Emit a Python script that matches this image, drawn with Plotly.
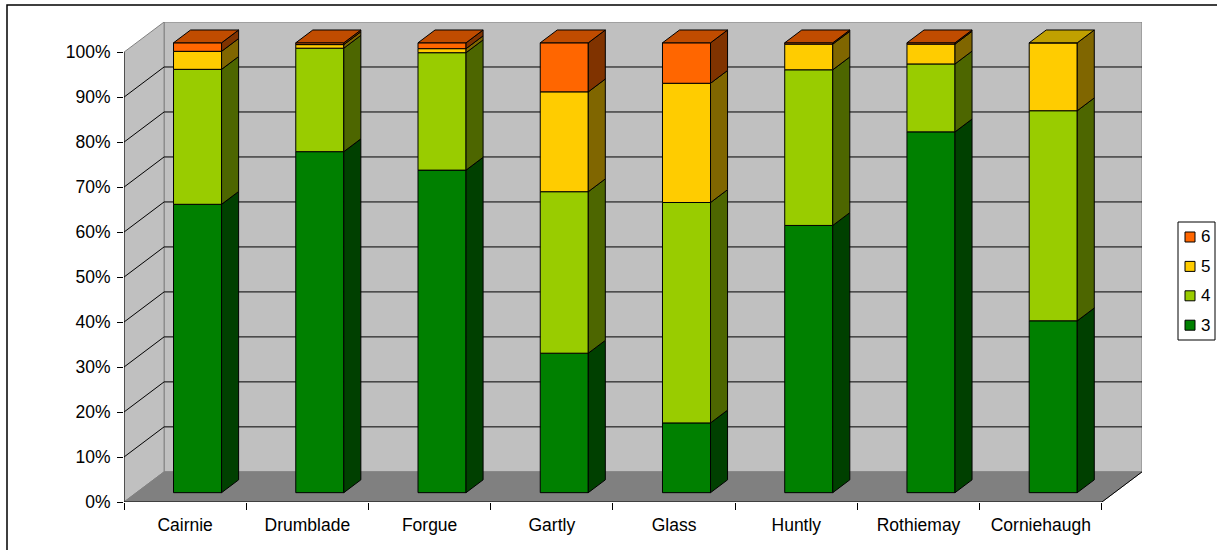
import plotly.graph_objects as go

# Share of each grade per site (percent of total)
sites = ["Cairnie", "Drumblade", "Forgue", "Gartly", "Glass", "Huntly", "Rothiemay", "Corniehaugh"]
grades = ["3", "4", "5", "6"]
grade3 = [64.1, 75.8, 71.7, 31.0, 15.5, 59.4, 80.2, 38.2]
grade4 = [30.0, 23.0, 26.1, 35.9, 49.0, 34.6, 15.1, 46.7]
grade5 = [4.0, 0.8, 0.9, 22.2, 26.5, 5.7, 4.4, 15.1]
grade6 = [1.9, 0.4, 1.3, 10.9, 9.0, 0.3, 0.3, 0.0]
y_ticks = [0, 10, 20, 30, 40, 50, 60, 70, 80, 90, 100]

series = [grade3, grade4, grade5, grade6]
front_colors = ["#008000", "#99CC00", "#FFCC00", "#FF6600"]
side_colors = ["#004000", "#4D6600", "#806600", "#803300"]
top_colors = ["#006000", "#739900", "#C0A000", "#C04C00"]

W, H = 1217, 550
M_L, M_R, M_T, M_B = 124, 75, 22, 48

# Oblique projection: depth 0 = front plane, depth 1 = back wall
DX = 0.328   # horizontal shift of the back wall (category units)
DY = 6.7     # vertical shift of the back wall (percent units)
D0, D1 = 0.31, 0.735   # bar depth extent
BAR_W = 0.393
n = len(sites)

FONT = "Liberation Sans, Arial, sans-serif"


def proj(x, y, d):
    return x + d * DX, y + d * DY


def px_x(p):
    """Pixel column -> paper x."""
    return (p - M_L) / (W - M_L - M_R)


def px_y(p):
    """Pixel row -> paper y."""
    return (H - M_B - p) / (H - M_T - M_B)


fig = go.Figure()

# Walls, floor and gridlines
shapes = []
wall_line = dict(color="#808080", width=1)
shapes.append(dict(type="path", layer="below",
                   path=f"M {DX},{DY} L {n + DX},{DY} L {n + DX},{100 + DY} L {DX},{100 + DY} Z",
                   fillcolor="#C0C0C0", line=wall_line))
shapes.append(dict(type="path", layer="below",
                   path=f"M 0,0 L 0,100 L {DX},{100 + DY} L {DX},{DY} Z",
                   fillcolor="#C0C0C0", line=wall_line))
shapes.append(dict(type="path", layer="below",
                   path=f"M 0,0 L {n},0 L {n + DX},{DY} L {DX},{DY} Z",
                   fillcolor="#808080", line=wall_line))
for v in y_ticks[1:-1]:
    shapes.append(dict(type="line", layer="below", x0=DX, y0=v + DY, x1=n + DX, y1=v + DY,
                       line=dict(color="#000000", width=1)))
    shapes.append(dict(type="line", layer="below", x0=0, y0=v, x1=DX, y1=v + DY,
                       line=dict(color="#000000", width=1)))
# Front axis lines and floor edge
shapes.append(dict(type="line", layer="above", x0=0, y0=0, x1=0, y1=100,
                   line=dict(color="#000000", width=1)))
shapes.append(dict(type="line", layer="above", x0=0, y0=0, x1=n, y1=0,
                   line=dict(color="#000000", width=1)))
shapes.append(dict(type="line", layer="above", x0=n, y0=0, x1=n + DX, y1=DY,
                   line=dict(color="#000000", width=1)))
# Outer chart frame
shapes.append(dict(type="rect", xref="paper", yref="paper", layer="above",
                   x0=px_x(7), y0=px_y(600), x1=px_x(1260), y1=px_y(5),
                   line=dict(color="#000000", width=1.5)))

# Stacked bars: front faces as bars, side faces as filled polygons
cum = [0.0] * n
for k, vals in enumerate(series):
    centers = [proj(i + 0.5, 0, D0)[0] for i in range(n)]
    bases = [cum[i] + D0 * DY for i in range(n)]
    fig.add_trace(go.Bar(
        x=centers, y=vals, base=bases, width=BAR_W, name=grades[k],
        marker=dict(color=front_colors[k], line=dict(color="#000000", width=1)),
        showlegend=False, hoverinfo="skip"))
    sx, sy = [], []
    for i in range(n):
        if vals[i] <= 0:
            continue
        xr = i + 0.5 + BAR_W / 2
        v0, v1 = cum[i], cum[i] + vals[i]
        pts = [proj(xr, v0, D0), proj(xr, v0, D1), proj(xr, v1, D1), proj(xr, v1, D0), proj(xr, v0, D0)]
        sx += [p[0] for p in pts] + [None]
        sy += [p[1] for p in pts] + [None]
    fig.add_trace(go.Scatter(
        x=sx, y=sy, mode="lines", fill="toself", fillcolor=side_colors[k],
        line=dict(color="#000000", width=1), showlegend=False, hoverinfo="skip"))
    cum = [cum[i] + vals[i] for i in range(n)]

# Top faces coloured by the highest non-empty grade
for i in range(n):
    top_k = max(k for k in range(len(series)) if series[k][i] > 0)
    xl = i + 0.5 - BAR_W / 2
    xr = i + 0.5 + BAR_W / 2
    v = cum[i]
    pts = [proj(xl, v, D0), proj(xr, v, D0), proj(xr, v, D1), proj(xl, v, D1), proj(xl, v, D0)]
    fig.add_trace(go.Scatter(
        x=[p[0] for p in pts], y=[p[1] for p in pts], mode="lines", fill="toself",
        fillcolor=top_colors[top_k], line=dict(color="#000000", width=1),
        showlegend=False, hoverinfo="skip"))

# Legend box on the right, highest grade on top
annotations = []
shapes.append(dict(type="rect", xref="paper", yref="paper", layer="above",
                   x0=px_x(1178), y0=px_y(340), x1=px_x(1215), y1=px_y(222),
                   fillcolor="#FFFFFF", line=dict(color="#000000", width=1)))
for row, k in enumerate(reversed(range(len(grades)))):
    cy = 237 + row * 29.4
    shapes.append(dict(type="rect", xref="paper", yref="paper", layer="above",
                       x0=px_x(1185), y0=px_y(cy + 5), x1=px_x(1195), y1=px_y(cy - 5),
                       fillcolor=front_colors[k], line=dict(color="#000000", width=1)))
    annotations.append(dict(xref="paper", yref="paper", x=px_x(1199), y=px_y(cy),
                            xanchor="left", yanchor="middle", showarrow=False,
                            text=grades[k], font=dict(family=FONT, size=17, color="#000000")))

font = dict(family=FONT, size=17.5, color="#000000")

fig.update_layout(
    width=W, height=H,
    margin=dict(l=M_L, r=M_R, t=M_T, b=M_B),
    paper_bgcolor="#FFFFFF", plot_bgcolor="rgba(0,0,0,0)",
    barmode="overlay",
    font=font,
    shapes=shapes,
    annotations=annotations,
    showlegend=False,
    xaxis=dict(range=[0, n + DX], showgrid=False, zeroline=False, showline=False,
               tickmode="array", tickvals=[i + 0.5 for i in range(n)], ticktext=sites,
               ticks="", ticklabelstandoff=10,
               minor=dict(tickmode="linear", tick0=0, dtick=1, ticks="outside",
                          ticklen=7, tickcolor="#000000", showgrid=False),
               fixedrange=True),
    yaxis=dict(range=[0, 100 + DY], showgrid=False, zeroline=False, showline=False,
               tickmode="array", tickvals=y_ticks, ticktext=[f"{v}%" for v in y_ticks],
               ticks="outside", ticklen=6, tickcolor="#000000", ticklabelstandoff=3,
               fixedrange=True),
)

fig.write_html("out.html")
